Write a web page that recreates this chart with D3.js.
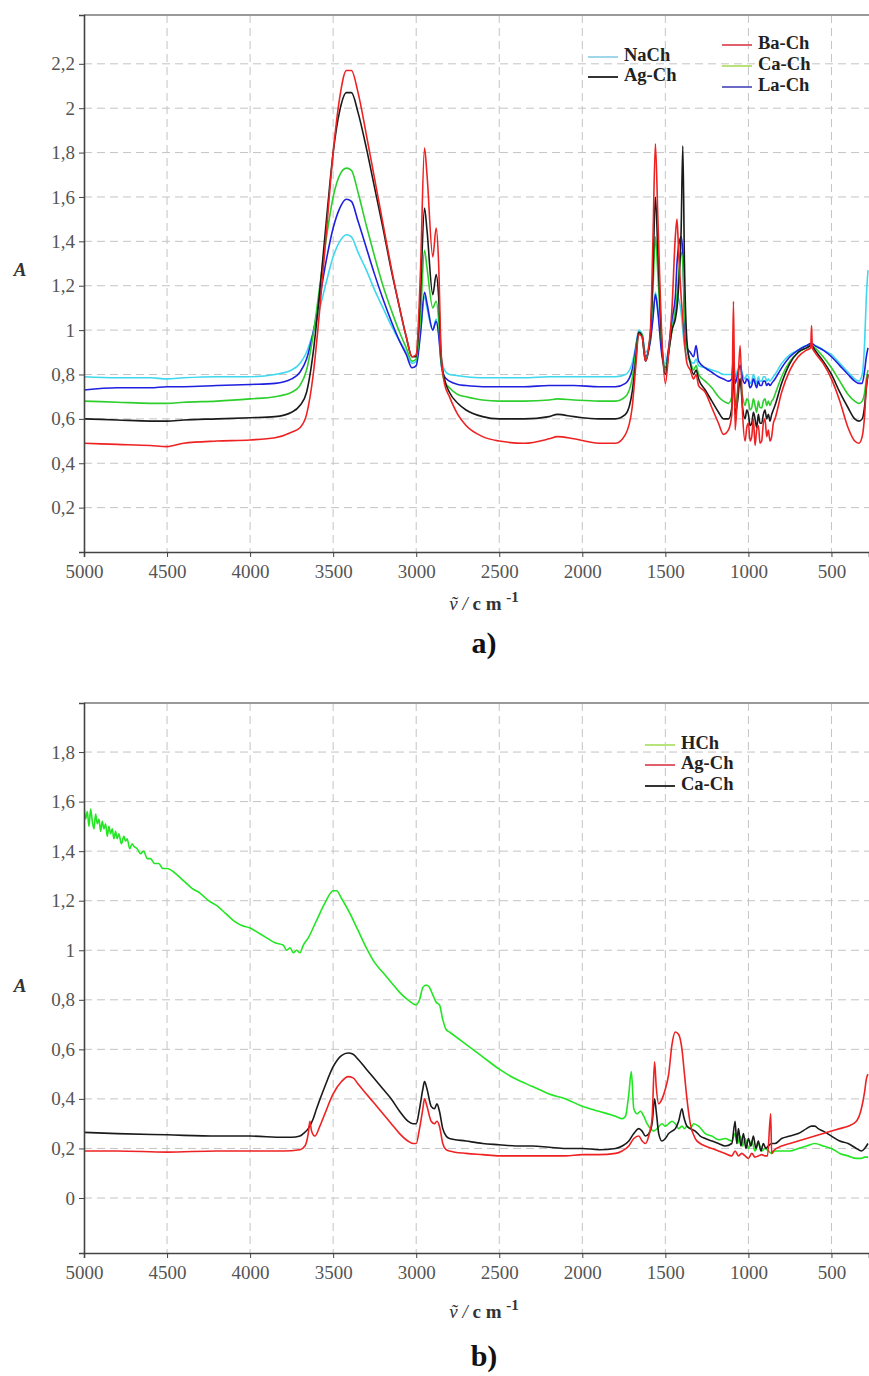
<!DOCTYPE html>
<html><head><meta charset="utf-8">
<script src="https://cdn.jsdelivr.net/npm/d3@7"></script>
<style>body{margin:0;background:#fff} text{font-family:'Liberation Serif',serif}</style>
</head><body><svg id="c" width="869" height="1376"></svg>
<script>
// ---------- data ----------
const xTicks = [5000,4500,4000,3500,3000,2500,2000,1500,1000,500];
const yTicksA = [0.2,0.4,0.6,0.8,1,1.2,1.4,1.6,1.8,2,2.2];
const yTicksB = [0,0.2,0.4,0.6,0.8,1,1.2,1.4,1.6,1.8];
const seriesA = ["NaCh","Ag-Ch","Ba-Ch","Ca-Ch","La-Ch"];
const seriesB = ["HCh","Ag-Ch","Ca-Ch"];

const baChA = [[5000,0.49],[4800,0.485],[4600,0.48],[4500,0.475],[4400,0.49],[4200,0.50],[4000,0.505],[3850,0.515],[3750,0.54],[3700,0.56],[3660,0.62],[3620,0.80],[3580,1.10],[3540,1.45],[3500,1.80],[3460,2.05],[3420,2.17],[3390,2.17],[3350,2.07],[3300,1.88],[3250,1.68],[3200,1.48],[3150,1.28],[3100,1.10],[3060,0.97],[3025,0.88],[3000,0.89],[2975,1.25],[2950,1.82],[2935,1.70],[2900,1.33],[2880,1.46],[2865,1.30],[2850,0.90],[2830,0.76],[2800,0.70],[2750,0.62],[2700,0.57],[2600,0.52],[2500,0.50],[2350,0.49],[2200,0.51],[2150,0.52],[2050,0.51],[1900,0.49],[1800,0.49],[1740,0.53],[1700,0.65],[1680,0.82],[1660,0.98],[1640,0.97],[1620,0.86],[1590,1.00],[1575,1.40],[1560,1.84],[1545,1.50],[1520,0.95],[1500,0.76],[1480,0.90],[1460,1.10],[1440,1.42],[1430,1.50],[1420,1.35],[1405,1.15],[1395,1.05],[1385,0.95],[1370,0.85],[1350,0.82],[1330,0.78],[1315,0.80],[1300,0.75],[1260,0.72],[1220,0.65],[1180,0.58],[1150,0.53],[1120,0.55],[1100,0.62],[1090,1.13],[1080,0.55],[1065,0.72],[1050,0.93],[1035,0.62],[1020,0.50],[1010,0.56],[1000,0.58],[990,0.50],[980,0.52],[970,0.60],[960,0.48],[950,0.55],[940,0.57],[930,0.49],[920,0.50],[910,0.58],[900,0.60],[890,0.52],[880,0.55],[870,0.50],[860,0.52],[850,0.58],[840,0.60],[800,0.72],[750,0.82],[700,0.88],[650,0.91],[625,0.92],[620,1.02],[615,0.92],[600,0.90],[550,0.85],[500,0.78],[450,0.68],[400,0.56],[360,0.50],[335,0.49],[315,0.52],[300,0.62],[290,0.75],[280,0.80]];

const agChA = [[5000,0.60],[4800,0.595],[4600,0.59],[4500,0.59],[4400,0.595],[4200,0.60],[4000,0.605],[3850,0.61],[3750,0.63],[3700,0.66],[3660,0.72],[3620,0.90],[3580,1.18],[3540,1.50],[3500,1.80],[3460,1.99],[3420,2.07],[3390,2.07],[3350,1.98],[3300,1.82],[3250,1.64],[3200,1.46],[3150,1.27],[3100,1.10],[3060,0.97],[3025,0.88],[3000,0.88],[2975,1.15],[2950,1.55],[2935,1.45],[2900,1.16],[2880,1.25],[2865,1.15],[2850,0.88],[2830,0.78],[2800,0.72],[2750,0.67],[2700,0.64],[2600,0.61],[2500,0.60],[2350,0.60],[2200,0.61],[2150,0.62],[2050,0.61],[1900,0.60],[1800,0.60],[1740,0.62],[1700,0.72],[1680,0.85],[1660,0.99],[1640,0.97],[1620,0.86],[1590,0.98],[1575,1.25],[1560,1.60],[1545,1.35],[1520,0.92],[1500,0.80],[1480,0.90],[1460,1.00],[1440,1.05],[1430,1.10],[1420,1.20],[1405,1.45],[1395,1.83],[1385,1.30],[1370,0.95],[1350,0.85],[1330,0.80],[1315,0.82],[1300,0.78],[1260,0.73],[1220,0.68],[1180,0.63],[1150,0.60],[1120,0.60],[1100,0.65],[1090,0.85],[1080,0.62],[1065,0.68],[1050,0.78],[1035,0.65],[1020,0.60],[1010,0.64],[1000,0.62],[990,0.57],[980,0.58],[970,0.63],[960,0.60],[950,0.56],[940,0.62],[930,0.58],[920,0.58],[910,0.62],[900,0.64],[890,0.60],[880,0.62],[870,0.59],[860,0.62],[850,0.64],[840,0.66],[800,0.76],[750,0.85],[700,0.90],[650,0.92],[620,0.93],[600,0.91],[550,0.86],[500,0.80],[450,0.72],[400,0.65],[360,0.60],[335,0.59],[315,0.60],[300,0.66],[290,0.74],[280,0.80]];

const caChA = [[5000,0.68],[4800,0.675],[4600,0.67],[4500,0.67],[4400,0.675],[4200,0.68],[4000,0.69],[3850,0.70],[3750,0.72],[3700,0.75],[3660,0.82],[3620,0.98],[3580,1.20],[3540,1.42],[3500,1.60],[3460,1.70],[3420,1.73],[3390,1.72],[3350,1.62],[3300,1.47],[3250,1.33],[3200,1.20],[3150,1.09],[3100,0.99],[3060,0.92],[3025,0.86],[3000,0.87],[2975,1.05],[2950,1.36],[2935,1.28],[2900,1.10],[2880,1.13],[2865,1.05],[2850,0.86],[2830,0.77],[2800,0.74],[2750,0.71],[2700,0.70],[2600,0.685],[2500,0.68],[2350,0.68],[2200,0.685],[2150,0.69],[2050,0.685],[1900,0.68],[1800,0.68],[1740,0.70],[1700,0.78],[1680,0.89],[1660,0.99],[1640,0.98],[1620,0.87],[1590,0.98],[1575,1.18],[1560,1.42],[1545,1.25],[1520,0.92],[1500,0.82],[1480,0.90],[1460,1.00],[1440,1.08],[1430,1.15],[1420,1.25],[1405,1.35],[1395,1.30],[1385,1.10],[1370,0.92],[1350,0.86],[1330,0.82],[1315,0.84],[1300,0.80],[1260,0.77],[1220,0.74],[1180,0.70],[1150,0.68],[1120,0.67],[1100,0.70],[1090,0.82],[1080,0.66],[1065,0.72],[1050,0.78],[1035,0.70],[1020,0.66],[1010,0.69],[1000,0.68],[990,0.64],[980,0.65],[970,0.69],[960,0.66],[950,0.63],[940,0.68],[930,0.65],[920,0.65],[910,0.68],[900,0.69],[890,0.66],[880,0.68],[870,0.66],[860,0.68],[850,0.69],[840,0.71],[800,0.79],[750,0.86],[700,0.90],[650,0.92],[620,0.93],[600,0.92],[550,0.88],[500,0.83],[450,0.77],[400,0.71],[360,0.68],[335,0.67],[315,0.68],[300,0.72],[290,0.78],[280,0.82]];

const laChA = [[5000,0.73],[4800,0.74],[4600,0.74],[4500,0.745],[4400,0.745],[4200,0.75],[4000,0.755],[3850,0.76],[3750,0.78],[3700,0.81],[3660,0.87],[3620,0.99],[3580,1.15],[3540,1.32],[3500,1.46],[3460,1.55],[3420,1.59],[3390,1.58],[3350,1.49],[3300,1.37],[3250,1.25],[3200,1.14],[3150,1.04],[3100,0.95],[3060,0.89],[3025,0.83],[3000,0.84],[2975,0.98],[2950,1.17],[2935,1.12],[2900,1.00],[2880,1.04],[2865,0.98],[2850,0.85],[2830,0.79],[2800,0.77],[2750,0.755],[2700,0.75],[2600,0.745],[2500,0.745],[2350,0.745],[2200,0.75],[2150,0.75],[2050,0.75],[1900,0.745],[1800,0.745],[1740,0.76],[1700,0.82],[1680,0.91],[1660,0.99],[1640,0.98],[1620,0.88],[1590,0.95],[1575,1.05],[1560,1.16],[1545,1.08],[1520,0.88],[1500,0.83],[1480,0.92],[1460,1.05],[1440,1.15],[1430,1.30],[1420,1.38],[1405,1.42],[1395,1.35],[1385,1.05],[1370,0.92],[1350,0.90],[1330,0.88],[1315,0.93],[1300,0.86],[1260,0.83],[1220,0.81],[1180,0.79],[1150,0.78],[1120,0.77],[1100,0.78],[1090,0.88],[1080,0.76],[1065,0.80],[1050,0.84],[1035,0.78],[1020,0.76],[1010,0.78],[1000,0.77],[990,0.74],[980,0.75],[970,0.78],[960,0.76],[950,0.74],[940,0.77],[930,0.75],[920,0.75],[910,0.77],[900,0.77],[890,0.75],[880,0.76],[870,0.75],[860,0.76],[850,0.77],[840,0.78],[800,0.83],[750,0.88],[700,0.91],[650,0.93],[620,0.94],[600,0.93],[550,0.91],[500,0.88],[450,0.84],[400,0.80],[360,0.77],[335,0.76],[315,0.76],[300,0.82],[290,0.88],[280,0.92]];

const naChA = [[5000,0.79],[4800,0.785],[4600,0.785],[4500,0.78],[4400,0.785],[4200,0.79],[4000,0.79],[3850,0.80],[3750,0.82],[3700,0.85],[3660,0.90],[3620,0.99],[3580,1.10],[3540,1.22],[3500,1.33],[3460,1.40],[3420,1.43],[3390,1.42],[3350,1.35],[3300,1.27],[3250,1.18],[3200,1.10],[3150,1.02],[3100,0.95],[3060,0.90],[3025,0.85],[3000,0.86],[2975,0.98],[2950,1.15],[2935,1.10],[2900,1.00],[2880,1.05],[2865,0.99],[2850,0.88],[2830,0.82],[2800,0.80],[2750,0.795],[2700,0.79],[2600,0.785],[2500,0.785],[2350,0.785],[2200,0.79],[2150,0.79],[2050,0.79],[1900,0.79],[1800,0.79],[1740,0.80],[1700,0.85],[1680,0.92],[1660,1.00],[1640,0.98],[1620,0.90],[1590,0.97],[1575,1.06],[1560,1.17],[1545,1.10],[1520,0.90],[1500,0.85],[1480,0.92],[1460,1.02],[1440,1.10],[1430,1.16],[1420,1.14],[1405,1.08],[1395,1.00],[1385,0.93],[1370,0.88],[1350,0.86],[1330,0.85],[1315,0.87],[1300,0.84],[1260,0.83],[1220,0.82],[1180,0.81],[1150,0.80],[1120,0.80],[1100,0.80],[1090,0.86],[1080,0.79],[1065,0.82],[1050,0.84],[1035,0.80],[1020,0.78],[1010,0.80],[1000,0.79],[990,0.76],[980,0.77],[970,0.80],[960,0.78],[950,0.76],[940,0.79],[930,0.77],[920,0.77],[910,0.79],[900,0.79],[890,0.77],[880,0.78],[870,0.77],[860,0.78],[850,0.79],[840,0.80],[800,0.85],[750,0.89],[700,0.91],[650,0.93],[620,0.93],[600,0.93],[550,0.91],[500,0.89],[450,0.85],[400,0.81],[360,0.78],[335,0.77],[315,0.80],[300,0.95],[290,1.15],[280,1.27]];

const hChB = [[5000,1.58],[4990,1.53],[4980,1.56],[4970,1.50],[4960,1.57],[4950,1.52],[4940,1.49],[4930,1.55],[4920,1.51],[4910,1.53],[4900,1.48],[4890,1.52],[4880,1.49],[4870,1.51],[4860,1.46],[4850,1.50],[4840,1.47],[4830,1.49],[4820,1.45],[4810,1.48],[4800,1.45],[4790,1.47],[4775,1.43],[4760,1.46],[4750,1.44],[4740,1.45],[4725,1.41],[4710,1.43],[4700,1.42],[4680,1.41],[4660,1.39],[4640,1.40],[4620,1.37],[4600,1.37],[4575,1.35],[4550,1.35],[4525,1.33],[4500,1.33],[4450,1.31],[4400,1.28],[4350,1.25],[4300,1.23],[4250,1.20],[4200,1.18],[4150,1.15],[4100,1.12],[4050,1.10],[4000,1.09],[3950,1.07],[3900,1.05],[3850,1.03],[3800,1.02],[3780,1.00],[3760,1.01],[3740,0.99],[3720,1.00],[3700,0.99],[3680,1.02],[3650,1.05],[3600,1.12],[3550,1.19],[3500,1.24],[3480,1.24],[3450,1.21],[3400,1.15],[3350,1.08],[3300,1.01],[3250,0.95],[3200,0.91],[3150,0.87],[3100,0.83],[3050,0.80],[3000,0.78],[2980,0.80],[2960,0.85],[2940,0.86],[2920,0.85],[2900,0.82],[2880,0.79],[2860,0.78],[2840,0.72],[2820,0.68],[2800,0.67],[2700,0.62],[2600,0.57],[2500,0.52],[2400,0.48],[2300,0.45],[2200,0.42],[2100,0.40],[2000,0.37],[1900,0.35],[1800,0.33],[1760,0.32],[1740,0.33],[1720,0.42],[1705,0.51],[1690,0.36],[1670,0.34],[1650,0.35],[1630,0.33],[1610,0.30],[1590,0.28],[1570,0.27],[1550,0.28],[1520,0.30],[1500,0.29],[1480,0.30],[1460,0.31],[1440,0.30],[1420,0.28],[1400,0.29],[1385,0.28],[1370,0.29],[1350,0.28],[1330,0.30],[1300,0.29],[1260,0.26],[1220,0.25],[1180,0.235],[1140,0.24],[1100,0.23],[1080,0.26],[1065,0.22],[1050,0.25],[1035,0.21],[1020,0.24],[1000,0.20],[980,0.23],[960,0.19],[940,0.22],[920,0.19],[900,0.20],[880,0.19],[860,0.18],[840,0.19],[800,0.19],[750,0.19],[700,0.20],[650,0.21],[600,0.22],[550,0.21],[500,0.20],[450,0.18],[400,0.17],[350,0.16],[320,0.16],[300,0.165],[280,0.165]];

const caChB = [[5000,0.265],[4800,0.26],[4500,0.255],[4200,0.25],[4000,0.25],[3800,0.245],[3750,0.245],[3700,0.25],[3680,0.26],[3650,0.28],[3620,0.32],[3600,0.36],[3550,0.45],[3500,0.53],[3450,0.575],[3410,0.585],[3380,0.58],[3350,0.56],[3300,0.52],[3250,0.48],[3200,0.44],[3150,0.40],[3100,0.35],[3050,0.31],[3020,0.30],[3000,0.30],[2980,0.36],[2960,0.44],[2950,0.47],[2935,0.44],[2910,0.37],[2890,0.36],[2875,0.38],[2860,0.35],[2840,0.28],[2820,0.25],[2800,0.24],[2700,0.23],[2600,0.22],[2500,0.215],[2400,0.21],[2300,0.21],[2200,0.205],[2100,0.20],[2000,0.20],[1900,0.195],[1800,0.20],[1760,0.21],[1720,0.23],[1690,0.26],[1660,0.28],[1640,0.27],[1620,0.25],[1600,0.26],[1580,0.30],[1565,0.40],[1555,0.35],[1540,0.26],[1520,0.23],[1500,0.24],[1480,0.26],[1460,0.27],[1440,0.28],[1420,0.31],[1400,0.36],[1390,0.33],[1370,0.29],[1350,0.28],[1320,0.27],[1290,0.25],[1260,0.24],[1220,0.23],[1180,0.22],[1140,0.21],[1100,0.22],[1080,0.31],[1070,0.22],[1060,0.28],[1045,0.21],[1030,0.26],[1015,0.20],[1000,0.24],[985,0.21],[970,0.25],[955,0.20],[940,0.23],[925,0.19],[910,0.22],[895,0.20],[880,0.21],[860,0.22],[840,0.22],[800,0.24],[750,0.25],[700,0.26],[650,0.28],[620,0.29],[600,0.29],[580,0.28],[550,0.27],[500,0.25],[450,0.23],[400,0.22],[350,0.20],[320,0.19],[300,0.20],[280,0.22]];

const agChB = [[5000,0.19],[4800,0.19],[4500,0.185],[4200,0.19],[4000,0.19],[3800,0.19],[3700,0.195],[3670,0.21],[3650,0.26],[3640,0.31],[3630,0.27],[3610,0.25],[3580,0.29],[3550,0.34],[3500,0.42],[3450,0.47],[3410,0.49],[3380,0.485],[3350,0.46],[3300,0.42],[3250,0.38],[3200,0.34],[3150,0.30],[3100,0.26],[3050,0.23],[3020,0.22],[3000,0.22],[2980,0.28],[2960,0.36],[2950,0.40],[2935,0.37],[2910,0.31],[2890,0.30],[2875,0.31],[2860,0.29],[2840,0.22],[2820,0.195],[2800,0.19],[2700,0.18],[2600,0.175],[2500,0.17],[2400,0.17],[2300,0.17],[2200,0.17],[2100,0.17],[2000,0.175],[1900,0.175],[1800,0.18],[1760,0.19],[1720,0.21],[1690,0.24],[1660,0.25],[1640,0.23],[1620,0.22],[1600,0.25],[1580,0.32],[1565,0.55],[1555,0.45],[1540,0.38],[1520,0.40],[1500,0.44],[1480,0.50],[1460,0.62],[1440,0.67],[1420,0.66],[1400,0.60],[1385,0.50],[1370,0.40],[1350,0.30],[1320,0.24],[1290,0.22],[1260,0.21],[1220,0.20],[1180,0.19],[1140,0.18],[1100,0.17],[1080,0.19],[1060,0.17],[1040,0.18],[1020,0.17],[1000,0.16],[980,0.18],[960,0.165],[940,0.17],[920,0.175],[900,0.17],[885,0.17],[866,0.34],[860,0.18],[850,0.19],[800,0.21],[750,0.22],[700,0.23],[650,0.24],[600,0.25],[550,0.26],[500,0.27],[450,0.28],[400,0.29],[350,0.31],[320,0.36],[300,0.43],[290,0.48],[280,0.50]];

// ---------- drawing ----------
const svg = d3.select("#c");
const serif = "'Liberation Serif', serif";
const fmt = v => (Math.round(v*10)/10).toString().replace(".", ",");

function panel(cfg){
  const x = d3.scaleLinear().domain([5000, 274]).range([84, 869]);
  const y = d3.scaleLinear().domain(cfg.yDomain).range([cfg.bottom, cfg.top]);
  const g = svg.append("g");
  const clipId = "clip" + cfg.id;
  svg.append("defs").append("clipPath").attr("id", clipId)
    .append("rect").attr("x", 84).attr("y", cfg.top).attr("width", 869-84).attr("height", cfg.bottom-cfg.top);

  // grid
  g.append("g").selectAll("line").data(xTicks.slice(1)).join("line")
    .attr("x1", d=>x(d)).attr("x2", d=>x(d)).attr("y1", cfg.top).attr("y2", cfg.bottom)
    .attr("stroke", "#c4c4c4").attr("stroke-dasharray", "8,5").attr("stroke-width", 1);
  g.append("g").selectAll("line").data(cfg.yTicks).join("line")
    .attr("x1", 84).attr("x2", 869).attr("y1", d=>y(d)).attr("y2", d=>y(d))
    .attr("stroke", "#c4c4c4").attr("stroke-dasharray", "8,5").attr("stroke-width", 1);

  // top border
  g.append("line").attr("x1", 84).attr("x2", 869).attr("y1", cfg.top).attr("y2", cfg.top)
    .attr("stroke", "#9a9a9a").attr("stroke-width", 2);

  // series
  const line = d3.line().x(d=>x(d[0])).y(d=>y(d[1])).curve(d3.curveMonotoneX);
  const lg = g.append("g").attr("clip-path", `url(#${clipId})`);
  cfg.series.forEach(s => {
    lg.append("path").datum(s.data).attr("d", line).attr("fill", "none")
      .attr("stroke", s.color).attr("stroke-width", 1.6).attr("stroke-linejoin", "round");
  });

  // axes
  const xa = g.append("g").attr("transform", `translate(0,${cfg.bottom})`)
    .call(d3.axisBottom(x).tickValues(xTicks).tickSize(5).tickFormat(d3.format("d")));
  xa.attr("font-family", serif).attr("font-size", 19);
  xa.select(".domain").attr("stroke", "#444").attr("stroke-width", 1.6);
  xa.selectAll(".tick line").attr("stroke", "#444");
  xa.selectAll("text").attr("font-family", serif).style("font-family", serif)
    .attr("font-size", 19).attr("fill", "#555").attr("dy", "0.95em");

  const ya = g.append("g").attr("transform", "translate(84,0)")
    .call(d3.axisLeft(y).tickValues(cfg.yTicks).tickSize(5).tickFormat(fmt));
  ya.attr("font-family", serif).attr("font-size", 19);
  ya.select(".domain").attr("stroke", "#444").attr("stroke-width", 1.6);
  ya.selectAll(".tick line").attr("stroke", "#444");
  ya.selectAll("text").attr("font-family", serif).style("font-family", serif)
    .attr("font-size", 19).attr("fill", "#555").attr("dx", "-0.05em");

  // y label
  g.append("text").attr("x", 20).attr("y", cfg.aY).attr("text-anchor", "middle")
    .attr("dominant-baseline", "middle").attr("font-size", 19)
    .attr("font-style", "italic").attr("font-weight", "bold").attr("fill", "#333").text("A");

  // x title
  const t = g.append("text").attr("x", 484).attr("y", cfg.titleY).attr("text-anchor", "middle")
    .attr("font-size", 19).attr("fill", "#333");
  t.append("tspan").attr("font-style", "italic").text("\u1E7D / ");
  t.append("tspan").attr("font-weight", "bold").text("c m ");
  t.append("tspan").attr("font-weight", "bold").attr("font-size", 15).attr("dy", -8).text("-1");

  // panel letter
  g.append("text").attr("x", 484).attr("y", cfg.letterY).attr("text-anchor", "middle")
    .attr("font-size", 30).attr("font-weight", "bold").attr("fill", "#111")
    .text(cfg.letter);

  // legend
  cfg.legend.forEach(l => {
    g.append("line").attr("x1", l.x).attr("x2", l.x + 30).attr("y1", l.y).attr("y2", l.y)
      .attr("stroke", l.color).attr("stroke-width", 2);
    g.append("text").attr("x", l.x + 36).attr("y", l.y).attr("dominant-baseline", "middle")
      .attr("font-size", 18.5).attr("font-weight", "bold").attr("fill", "#222")
      .text(l.name);
  });
}

panel({
  id: "a", top: 15, bottom: 552, yDomain: [0, 2.42], yTicks: yTicksA,
  aY: 272, titleY: 610, letterY: 653, letter: "a)",
  series: [
    {data: naChA, color: "#3fd8ee"},
    {data: laChA, color: "#1f1fe0"},
    {data: caChA, color: "#2ccf2c"},
    {data: agChA, color: "#1a1a1a"},
    {data: baChA, color: "#ee2222"}
  ],
  legend: [
    {name: seriesA[0], x: 588, y: 57, color: "#9fd6ea"},
    {name: seriesA[1], x: 588, y: 77, color: "#333333"},
    {name: seriesA[2], x: 722, y: 45, color: "#e0606c"},
    {name: seriesA[3], x: 722, y: 66, color: "#b9e27a"},
    {name: seriesA[4], x: 722, y: 87, color: "#6a6ac6"}
  ]
});

panel({
  id: "b", top: 703, bottom: 1253, yDomain: [-0.222, 1.998], yTicks: yTicksB,
  aY: 988, titleY: 1318, letterY: 1366, letter: "b)",
  series: [
    {data: hChB, color: "#22e622"},
    {data: caChB, color: "#1a1a1a"},
    {data: agChB, color: "#ee2222"}
  ],
  legend: [
    {name: seriesB[0], x: 645, y: 745, color: "#b6e47a"},
    {name: seriesB[1], x: 645, y: 765, color: "#e0606c"},
    {name: seriesB[2], x: 645, y: 786, color: "#333333"}
  ]
});
</script>
</body></html>
